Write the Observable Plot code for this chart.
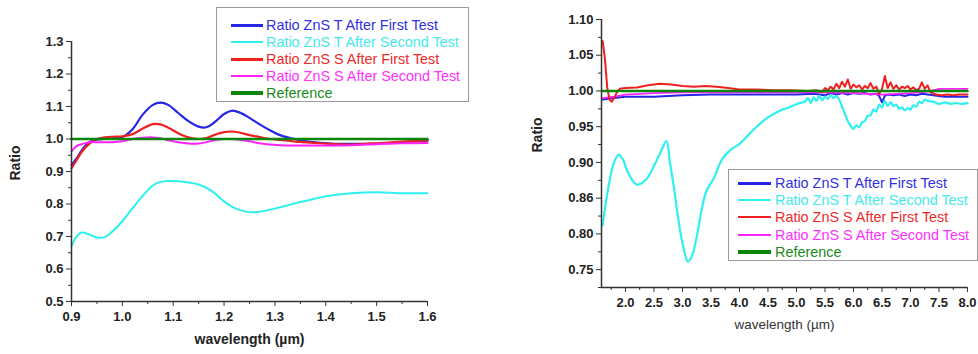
<!DOCTYPE html>
<html>
<head>
<meta charset="utf-8">
<script src="https://cdn.jsdelivr.net/npm/d3@7"></script>
<script src="https://cdn.jsdelivr.net/npm/@observablehq/plot@0.6"></script>
<style>
  html, body { margin: 0; padding: 0; background: #fff; }
  #wrap { position: relative; width: 978px; height: 354px; background: #fff; overflow: hidden; font-family: "Liberation Sans", Arial, sans-serif; }
  .panel { position: absolute; top: 0; }
  .legend { position: absolute; border: 1px solid #9a9a9a; background: #fff; box-sizing: border-box; }
  .swatch { position: absolute; }
  .lab { position: absolute; font-size: 14.4px; white-space: nowrap; line-height: 16px; transform: translateY(-8px); }
</style>
</head>
<body>
<div id="wrap">
  <div id="left" class="panel" style="left:0px"></div>
  <div id="right" class="panel" style="left:490px"></div>
  <div id="legL" class="legend" style="left:216px; top:7px; width:253px; height:95px;"></div>
  <div id="legR" class="legend" style="left:728px; top:169px; width:250px; height:92px;"></div>
</div>
<script>
// ---------- series names & colours ----------
const seriesNames = [
  "Ratio ZnS T After First Test",
  "Ratio ZnS T After Second Test",
  "Ratio ZnS S After First Test",
  "Ratio ZnS S After Second Test",
  "Reference"
];
const seriesColors = ["#2626e6", "#2ef0f0", "#f02020", "#ff22ff", "#0a870a"];
const legendTextColors = ["#3030e0", "#45eaea", "#ee2a2a", "#ff30ff", "#1a8a1a"];

// ---------- left panel data (0.9 - 1.6 µm) ----------
const leftWl = [0.90, 0.91, 0.92, 0.935, 0.95, 0.965, 0.98, 1.00, 1.02, 1.04,
                1.06, 1.075, 1.09, 1.11, 1.13, 1.15, 1.165, 1.18, 1.20, 1.215,
                1.23, 1.25, 1.27, 1.29, 1.31, 1.33, 1.35, 1.38, 1.41, 1.45,
                1.50, 1.55, 1.60];
const leftTFirst = [0.920, 0.940, 0.965, 0.990, 0.998, 1.000, 1.002, 1.006, 1.030, 1.075,
                    1.105, 1.112, 1.105, 1.080, 1.055, 1.038, 1.036, 1.050, 1.077, 1.087,
                    1.082, 1.065, 1.045, 1.027, 1.012, 1.003, 0.996, 0.990, 0.986, 0.985,
                    0.986, 0.990, 0.995];
const leftTSecond = [0.670, 0.700, 0.712, 0.706, 0.697, 0.698, 0.715, 0.747, 0.787, 0.825,
                     0.857, 0.868, 0.871, 0.870, 0.866, 0.860, 0.850, 0.835, 0.808, 0.792,
                     0.782, 0.775, 0.776, 0.782, 0.790, 0.798, 0.806, 0.817, 0.826, 0.833,
                     0.836, 0.833, 0.833];
const leftSFirst = [0.910, 0.935, 0.960, 0.985, 1.000, 1.005, 1.007, 1.008, 1.015, 1.032,
                    1.046, 1.045, 1.035, 1.018, 1.005, 1.000, 1.003, 1.012, 1.021, 1.023,
                    1.020, 1.012, 1.006, 1.000, 0.997, 0.994, 0.991, 0.988, 0.985, 0.983,
                    0.987, 0.992, 0.996];
const leftSSecond = [0.962, 0.978, 0.984, 0.990, 0.990, 0.990, 0.990, 0.993, 1.000, 1.004,
                     1.005, 1.002, 0.996, 0.990, 0.986, 0.986, 0.990, 0.996, 1.000, 1.000,
                     0.998, 0.993, 0.987, 0.983, 0.981, 0.980, 0.980, 0.980, 0.980, 0.981,
                     0.984, 0.987, 0.988];
const leftRefWl = [0.90, 1.60];
const leftRef = [1.0, 1.0];

const leftXTicks = [0.9, 1.0, 1.1, 1.2, 1.3, 1.4, 1.5, 1.6];
const leftXMinor = [0.95, 1.05, 1.15, 1.25, 1.35, 1.45, 1.55];
const leftYTicks = [0.5, 0.6, 0.7, 0.8, 0.9, 1.0, 1.1, 1.2, 1.3];
const leftYMinor = [0.55, 0.65, 0.75, 0.85, 0.95, 1.05, 1.15, 1.25];

// ---------- right panel data (1.6 - 8 µm) ----------
const rTSecondWl = [1.60, 1.70, 1.80, 1.88, 1.95, 2.05, 2.20, 2.35, 2.50, 2.62,
                    2.72, 2.78, 2.85, 2.92, 3.00, 3.10, 3.18, 3.26, 3.34, 3.42,
                    3.55, 3.70, 3.85, 4.00, 4.15, 4.30, 4.50, 4.70, 4.90, 5.05,
                    5.15, 5.20, 5.25, 5.30, 5.35, 5.40, 5.45, 5.50, 5.55, 5.60,
                    5.65, 5.70, 5.75, 5.80, 5.85, 5.90, 5.95, 6.00, 6.05, 6.10,
                    6.15, 6.20, 6.25, 6.30, 6.35, 6.40, 6.45, 6.50, 6.55, 6.60,
                    6.65, 6.70, 6.75, 6.80, 6.85, 6.90, 6.95, 7.00, 7.05, 7.10,
                    7.15, 7.20, 7.25, 7.30, 7.40, 7.50, 7.60, 7.70, 7.80, 7.90,
                    8.00];
const rTSecond = [0.812, 0.865, 0.900, 0.911, 0.905, 0.885, 0.869, 0.875, 0.895, 0.915,
                  0.930, 0.900, 0.865, 0.825, 0.787, 0.761, 0.772, 0.800, 0.835, 0.860,
                  0.878, 0.905, 0.918, 0.926, 0.938, 0.950, 0.963, 0.972, 0.978, 0.983,
                  0.985, 0.990, 0.983, 0.991, 0.986, 0.993, 0.987, 0.992, 0.989, 0.994,
                  0.990, 0.993, 0.988, 0.978, 0.968, 0.958, 0.951, 0.947, 0.952, 0.949,
                  0.956, 0.958, 0.965, 0.966, 0.974, 0.971, 0.981, 0.977, 0.986, 0.979,
                  0.984, 0.979, 0.981, 0.975, 0.977, 0.973, 0.976, 0.974, 0.980, 0.978,
                  0.985, 0.983, 0.988, 0.986, 0.985, 0.982, 0.984, 0.982, 0.983, 0.982,
                  0.983];

const rSFirstWl = [1.60, 1.64, 1.68, 1.72, 1.76, 1.80, 1.85, 1.90, 2.00, 2.20,
                   2.40, 2.60, 2.80, 3.00, 3.20, 3.40, 3.60, 3.80, 4.00, 4.30,
                   4.60, 4.90, 5.20, 5.35, 5.45, 5.50, 5.55, 5.60, 5.65, 5.70,
                   5.75, 5.80, 5.85, 5.90, 5.95, 6.00, 6.05, 6.10, 6.15, 6.20,
                   6.25, 6.30, 6.35, 6.40, 6.45, 6.50, 6.55, 6.60, 6.65, 6.70,
                   6.75, 6.80, 6.85, 6.90, 6.95, 7.00, 7.05, 7.10, 7.15, 7.20,
                   7.25, 7.30, 7.35, 7.45, 7.55, 7.65, 7.75, 7.85, 8.00];
const rSFirst = [1.070, 1.045, 1.005, 0.988, 0.985, 0.990, 0.998, 1.003, 1.004, 1.005,
                 1.008, 1.010, 1.009, 1.007, 1.006, 1.007, 1.006, 1.004, 1.002, 1.002,
                 1.001, 1.001, 1.000, 1.001, 0.998, 1.004, 1.001, 1.006, 1.002, 1.010,
                 1.004, 1.013, 1.006, 1.016, 1.003, 1.009, 1.005, 1.008, 1.002, 1.007,
                 1.004, 1.011, 1.003, 1.006, 0.996, 1.002, 1.021, 1.004, 1.012, 1.003,
                 1.008, 1.002, 1.006, 1.004, 1.007, 1.002, 1.005, 1.001, 1.003, 1.012,
                 1.003, 1.008, 0.998, 0.995, 0.994, 0.995, 0.994, 0.995, 0.995];

const rTFirstWl = [1.60, 1.80, 2.00, 2.50, 3.00, 3.50, 4.00, 4.50, 5.00, 5.30,
                   5.50, 5.60, 5.70, 5.80, 5.90, 6.00, 6.10, 6.20, 6.30, 6.40,
                   6.45, 6.50, 6.55, 6.60, 6.70, 6.80, 6.90, 7.00, 7.10, 7.20,
                   7.30, 7.40, 7.50, 7.60, 7.70, 7.80, 7.90, 8.00];
const rTFirst = [0.988, 0.990, 0.992, 0.992, 0.994, 0.995, 0.995, 0.995, 0.995, 0.996,
                 0.994, 0.997, 0.995, 0.997, 0.995, 0.997, 0.996, 0.997, 0.995, 0.996,
                 0.993, 0.984, 0.993, 0.995, 0.994, 0.995, 0.993, 0.995, 0.994, 0.996,
                 0.995, 0.994, 0.993, 0.992, 0.992, 0.992, 0.992, 0.992];

const rSSecondWl = [1.60, 1.80, 2.00, 2.50, 3.00, 3.50, 4.00, 4.50, 5.00, 5.50,
                    6.00, 6.50, 7.00, 7.30, 7.40, 7.50, 7.60, 7.70, 7.80, 8.00];
const rSSecond = [0.990, 0.992, 0.995, 0.997, 0.998, 0.998, 0.998, 0.998, 0.998, 0.998,
                  0.997, 0.995, 0.997, 0.999, 1.001, 1.003, 1.003, 1.003, 1.003, 1.003];

const rRefWl = [1.60, 8.00];
const rRef = [1.0, 1.0];

const rXTicks = [2.0, 2.5, 3.0, 3.5, 4.0, 4.5, 5.0, 5.5, 6.0, 6.5, 7.0, 7.5, 8.0];
const rXMinor = [1.75, 2.25, 2.75, 3.25, 3.75, 4.25, 4.75, 5.25, 5.75, 6.25, 6.75, 7.25, 7.75];
const rYTicks = [0.75, 0.80, 0.85, 0.90, 0.95, 1.00, 1.05, 1.10];
const rYTickLabels = ["0.75", "0.80", "0.86", "0.90", "0.95", "1.00", "1.05", "1.10"];
const rYMinor = [0.725, 0.775, 0.825, 0.875, 0.925, 0.975, 1.025, 1.075];

// ---------- helpers ----------
const pts = (xs, ys) => xs.map((x, i) => ({x, y: ys[i]}));
const axisColor = "#333";
const font = "'Liberation Sans', Arial, sans-serif";

// ---------- left chart ----------
const left = Plot.plot({
  width: 490, height: 354,
  marginLeft: 71, marginRight: 63, marginTop: 41, marginBottom: 53,
  x: {domain: [0.9, 1.6]},
  y: {domain: [0.5, 1.3]},
  style: {fontFamily: font, fontSize: "13px", background: "transparent", overflow: "visible", color: "#222"},
  marks: [
    Plot.line(pts(leftWl, leftTSecond), {x: "x", y: "y", stroke: seriesColors[1], strokeWidth: 2, curve: "catmull-rom"}),
    Plot.line(pts(leftWl, leftTFirst), {x: "x", y: "y", stroke: seriesColors[0], strokeWidth: 2.2, curve: "catmull-rom"}),
    Plot.line(pts(leftWl, leftSFirst), {x: "x", y: "y", stroke: seriesColors[2], strokeWidth: 2.2, curve: "catmull-rom"}),
    Plot.line(pts(leftWl, leftSSecond), {x: "x", y: "y", stroke: seriesColors[3], strokeWidth: 2, curve: "catmull-rom"}),
    Plot.line(pts(leftRefWl, leftRef), {x: "x", y: "y", stroke: seriesColors[4], strokeWidth: 2.6}),
    Plot.axisX({ticks: leftXTicks, tickFormat: d => d.toFixed(1), tickSize: 5, tickPadding: 5, label: null, fontWeight: "bold", stroke: axisColor}),
    Plot.axisX({ticks: leftXMinor, tickFormat: () => "", tickSize: 3, label: null, stroke: axisColor}),
    Plot.axisY({ticks: leftYTicks, tickFormat: d => d.toFixed(1), tickSize: 5, tickPadding: 3, label: null, fontWeight: "bold", stroke: axisColor}),
    Plot.axisY({ticks: leftYMinor, tickFormat: () => "", tickSize: 3, label: null, stroke: axisColor}),
    Plot.ruleX([0.9], {stroke: axisColor, strokeWidth: 1.5}),
    Plot.ruleY([0.5], {stroke: axisColor, strokeWidth: 1.5}),
    Plot.text(["wavelength (\u00b5m)"], {frameAnchor: "bottom", dy: 42, fontSize: 14, fontWeight: "bold", fill: "#222"}),
    Plot.text(["Ratio"], {frameAnchor: "left", dx: -56, dy: 9, rotate: -90, fontSize: 14, fontWeight: "bold", fill: "#222"})
  ]
});
document.getElementById("left").appendChild(left);

// ---------- right chart ----------
const right = Plot.plot({
  width: 488, height: 354,
  marginLeft: 111, marginRight: 11, marginTop: 19, marginBottom: 67,
  x: {domain: [1.58, 8.0]},
  y: {domain: [0.725, 1.10]},
  style: {fontFamily: font, fontSize: "13px", background: "transparent", overflow: "visible", color: "#222"},
  marks: [
    Plot.line(pts(rTFirstWl, rTFirst), {x: "x", y: "y", stroke: seriesColors[0], strokeWidth: 2}),
    Plot.line(pts(rSSecondWl, rSSecond), {x: "x", y: "y", stroke: seriesColors[3], strokeWidth: 1.8}),
    Plot.line(pts(rTSecondWl, rTSecond), {x: "x", y: "y", stroke: seriesColors[1], strokeWidth: 2.2, curve: "catmull-rom"}),
    Plot.line(pts(rSFirstWl, rSFirst), {x: "x", y: "y", stroke: seriesColors[2], strokeWidth: 2}),
    Plot.line(pts(rRefWl, rRef), {x: "x", y: "y", stroke: seriesColors[4], strokeWidth: 2.6}),
    Plot.axisX({ticks: rXTicks, tickFormat: d => d.toFixed(1), tickSize: 5, tickPadding: 5, label: null, fontWeight: "bold", stroke: axisColor}),
    Plot.axisX({ticks: rXMinor, tickFormat: () => "", tickSize: 3, label: null, stroke: axisColor}),
    Plot.axisY({ticks: rYTicks, tickFormat: d => rYTickLabels[rYTicks.indexOf(d)], tickSize: 5, tickPadding: 3, label: null, fontWeight: "bold", stroke: axisColor}),
    Plot.axisY({ticks: rYMinor, tickFormat: () => "", tickSize: 3, label: null, stroke: axisColor}),
    Plot.ruleX([1.58], {stroke: axisColor, strokeWidth: 1.5}),
    Plot.ruleY([0.725], {stroke: axisColor, strokeWidth: 1.5}),
    Plot.text(["wavelength (\u00b5m)"], {frameAnchor: "bottom", dy: 41, fontSize: 13.5, fill: "#333"}),
    Plot.text(["Ratio"], {frameAnchor: "left", dx: -64, dy: -1, rotate: -90, fontSize: 14, fontWeight: "bold", fill: "#222"})
  ]
});
document.getElementById("right").appendChild(right);

// ---------- legends ----------
function buildLegend(id, rowsY, lineX0, lineX1, textX, widths) {
  const box = document.getElementById(id);
  seriesNames.forEach((name, i) => {
    const sw = document.createElement("div");
    sw.className = "swatch";
    sw.style.left = lineX0 + "px";
    sw.style.width = (lineX1 - lineX0) + "px";
    sw.style.top = (rowsY[i] - widths[i] / 2) + "px";
    sw.style.height = widths[i] + "px";
    sw.style.background = seriesColors[i];
    box.appendChild(sw);
    const t = document.createElement("div");
    t.className = "lab";
    t.style.left = textX + "px";
    t.style.top = rowsY[i] + "px";
    t.style.color = legendTextColors[i];
    t.textContent = name;
    box.appendChild(t);
  });
}
buildLegend("legL", [17, 34, 51, 68, 85], 14, 46, 49, [3, 2, 3, 2.5, 4]);
buildLegend("legR", [13, 30, 47, 65, 82], 9, 42, 46, [3, 2.5, 2.5, 2, 4]);
</script>
</body>
</html>
